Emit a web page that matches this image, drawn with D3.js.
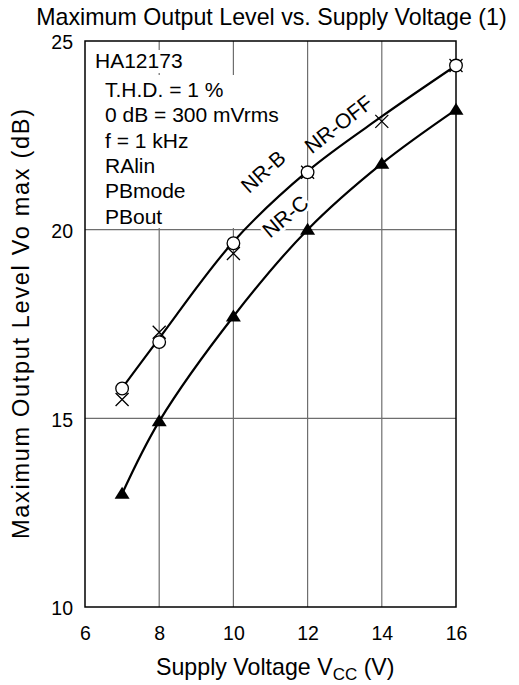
<!DOCTYPE html>
<html>
<head>
<meta charset="utf-8">
<script src="https://cdn.jsdelivr.net/npm/d3@7"></script>
<style>
  html, body { margin: 0; padding: 0; background: #fff; }
  svg { display: block; font-family: "Liberation Sans", Arial, sans-serif; }
</style>
</head>
<body>
<svg id="chart" width="519" height="685"></svg>
<script>
// ---- data ----
const xTicks = [6, 8, 10, 12, 14, 16];
const yTicks = [10, 15, 20, 25];

const nrbX = [7, 8, 10, 12, 16];            // NR-B (open circles)
const nrbY = [15.79, 17.02, 19.64, 21.52, 24.35];

const nroffX = [7, 8, 10, 12, 14, 16];      // NR-OFF (crosses)
const nroffY = [15.50, 17.28, 19.37, 21.52, 22.87, 24.35];

const nrcX = [7, 8, 10, 12, 14, 16];        // NR-C (filled triangles)
const nrcY = [13.0, 14.92, 17.7, 20.0, 21.75, 23.18];

const upperCurveX = [7, 8, 10, 12, 14, 16];
const upperCurveY = [15.8, 17.12, 19.68, 21.55, 23.0, 24.35];
const lowerCurveX = [7, 8, 10, 12, 14, 16];
const lowerCurveY = [13.0, 14.92, 17.7, 20.0, 21.75, 23.18];

const conditions = ["T.H.D. = 1 %", "0 dB = 300 mVrms", "f = 1 kHz", "RAlin", "PBmode", "PBout"];

// ---- layout ----
const L = 85, T = 41, R = 456, B = 607;
const svg = d3.select("#chart");
const x = d3.scaleLinear().domain([6, 16]).range([L, R]);
const y = d3.scaleLinear().domain([10, 25]).range([B, T]);

// grid
const grid = svg.append("g").attr("stroke", "#6e6e6e").attr("stroke-width", 1.2);
xTicks.slice(1, -1).forEach(v => {
  grid.append("line").attr("x1", x(v)).attr("x2", x(v)).attr("y1", T).attr("y2", B);
});
yTicks.slice(1, -1).forEach(v => {
  grid.append("line").attr("x1", L).attr("x2", R).attr("y1", y(v)).attr("y2", y(v));
});

// white masks behind the condition text
svg.append("rect").attr("x", 93).attr("y", 50).attr("width", 92).attr("height", 23).attr("fill", "#fff");
svg.append("rect").attr("x", L + 1).attr("y", 75).attr("width", 170).attr("height", 153).attr("fill", "#fff");

function curveLabel(txt, cx, cy, ang, bg) {
  const g = svg.append("g").attr("transform", `translate(${cx},${cy}) rotate(${ang})`);
  const t = g.append("text").attr("text-anchor", "middle").attr("font-size", 21)
    .attr("fill", "#000").attr("y", 0).text(txt);
  if (bg) {
    const bb = t.node().getBBox();
    g.insert("rect", "text").attr("x", bb.x - 1).attr("y", bb.y + 2)
      .attr("width", bb.width + 2).attr("height", bb.height - 3).attr("fill", "#fff");
  }
  return g;
}

// frame
svg.append("rect").attr("x", L).attr("y", T).attr("width", R - L).attr("height", B - T)
  .attr("fill", "none").attr("stroke", "#000").attr("stroke-width", 1.5);

// axes tick labels via d3 axes (domain hidden)
const xAxis = svg.append("g").attr("transform", `translate(0,${B})`)
  .call(d3.axisBottom(x).tickValues(xTicks).tickSize(0).tickPadding(0));
xAxis.select(".domain").remove();
xAxis.selectAll("text").attr("font-size", 19.5).attr("font-family", "Liberation Sans, Arial, sans-serif")
  .attr("fill", "#000").attr("dy", null).attr("y", 33);

const yAxis = svg.append("g").attr("transform", `translate(${L},0)`)
  .call(d3.axisLeft(y).tickValues(yTicks).tickSize(0).tickPadding(0));
yAxis.select(".domain").remove();
yAxis.selectAll("text").attr("font-size", 19.5).attr("font-family", "Liberation Sans, Arial, sans-serif")
  .attr("fill", "#000").attr("x", -12).attr("dy", "0.4em");

// labels on curves
curveLabel("NR-B", 268, 177, -42, false);
curveLabel("NR-OFF", 343, 130, -38, false);
curveLabel("NR-C", 290, 222, -40, true);

// curves
const line = d3.line().x(d => x(d[0])).y(d => y(d[1])).curve(d3.curveCatmullRom.alpha(0.5));
svg.append("path").datum(d3.zip(upperCurveX, upperCurveY)).attr("d", line)
  .attr("fill", "none").attr("stroke", "#000").attr("stroke-width", 2.2);
svg.append("path").datum(d3.zip(lowerCurveX, lowerCurveY)).attr("d", line)
  .attr("fill", "none").attr("stroke", "#000").attr("stroke-width", 2.2);

// markers
svg.append("g").selectAll("path").data(d3.zip(nroffX, nroffY)).join("path")
  .attr("transform", d => `translate(${x(d[0])},${y(d[1])})`)
  .attr("d", d3.symbol().type({draw(ctx) { const r = 6.5; ctx.moveTo(-r, -r); ctx.lineTo(r, r); ctx.moveTo(-r, r); ctx.lineTo(r, -r); }}).size(1))
  .attr("fill", "none").attr("stroke", "#000").attr("stroke-width", 1.3);

svg.append("g").selectAll("circle").data(d3.zip(nrbX, nrbY)).join("circle")
  .attr("cx", d => x(d[0])).attr("cy", d => y(d[1])).attr("r", 6.3)
  .attr("fill", "#fff").attr("stroke", "#000").attr("stroke-width", 1.3);

svg.append("g").selectAll("path").data(d3.zip(nrcX, nrcY)).join("path")
  .attr("transform", d => `translate(${x(d[0])},${y(d[1])})`)
  .attr("d", d3.symbol().type({draw(ctx) { ctx.moveTo(0, -7); ctx.lineTo(7.5, 5); ctx.lineTo(-7.5, 5); ctx.closePath(); }}).size(1))
  .attr("fill", "#000");

// condition text
svg.append("text").attr("x", 95).attr("y", 68).attr("font-size", 21).attr("fill", "#000").text("HA12173");
svg.append("g").selectAll("text").data(conditions).join("text")
  .attr("x", 105).attr("y", (d, i) => 97 + i * 25.3).attr("font-size", 21).attr("fill", "#000").text(d => d);

// title
svg.append("text").attr("x", 271.5).attr("y", 25).attr("text-anchor", "middle")
  .attr("font-size", 23.2).attr("fill", "#000").text("Maximum Output Level vs. Supply Voltage (1)");

// y label
svg.append("text").attr("transform", "translate(29,324) rotate(-90)").attr("text-anchor", "middle")
  .attr("font-size", 23.5).attr("textLength", 430).attr("lengthAdjust", "spacing")
  .attr("fill", "#000").text("Maximum Output Level Vo max (dB)");

// x label
const xl = svg.append("text").attr("x", 156).attr("y", 675).attr("font-size", 23.2).attr("fill", "#000");
xl.append("tspan").text("Supply Voltage V");
xl.append("tspan").attr("font-size", 17).attr("dy", 5).text("CC");
xl.append("tspan").attr("dy", -5).text(" (V)");
</script>
</body>
</html>
